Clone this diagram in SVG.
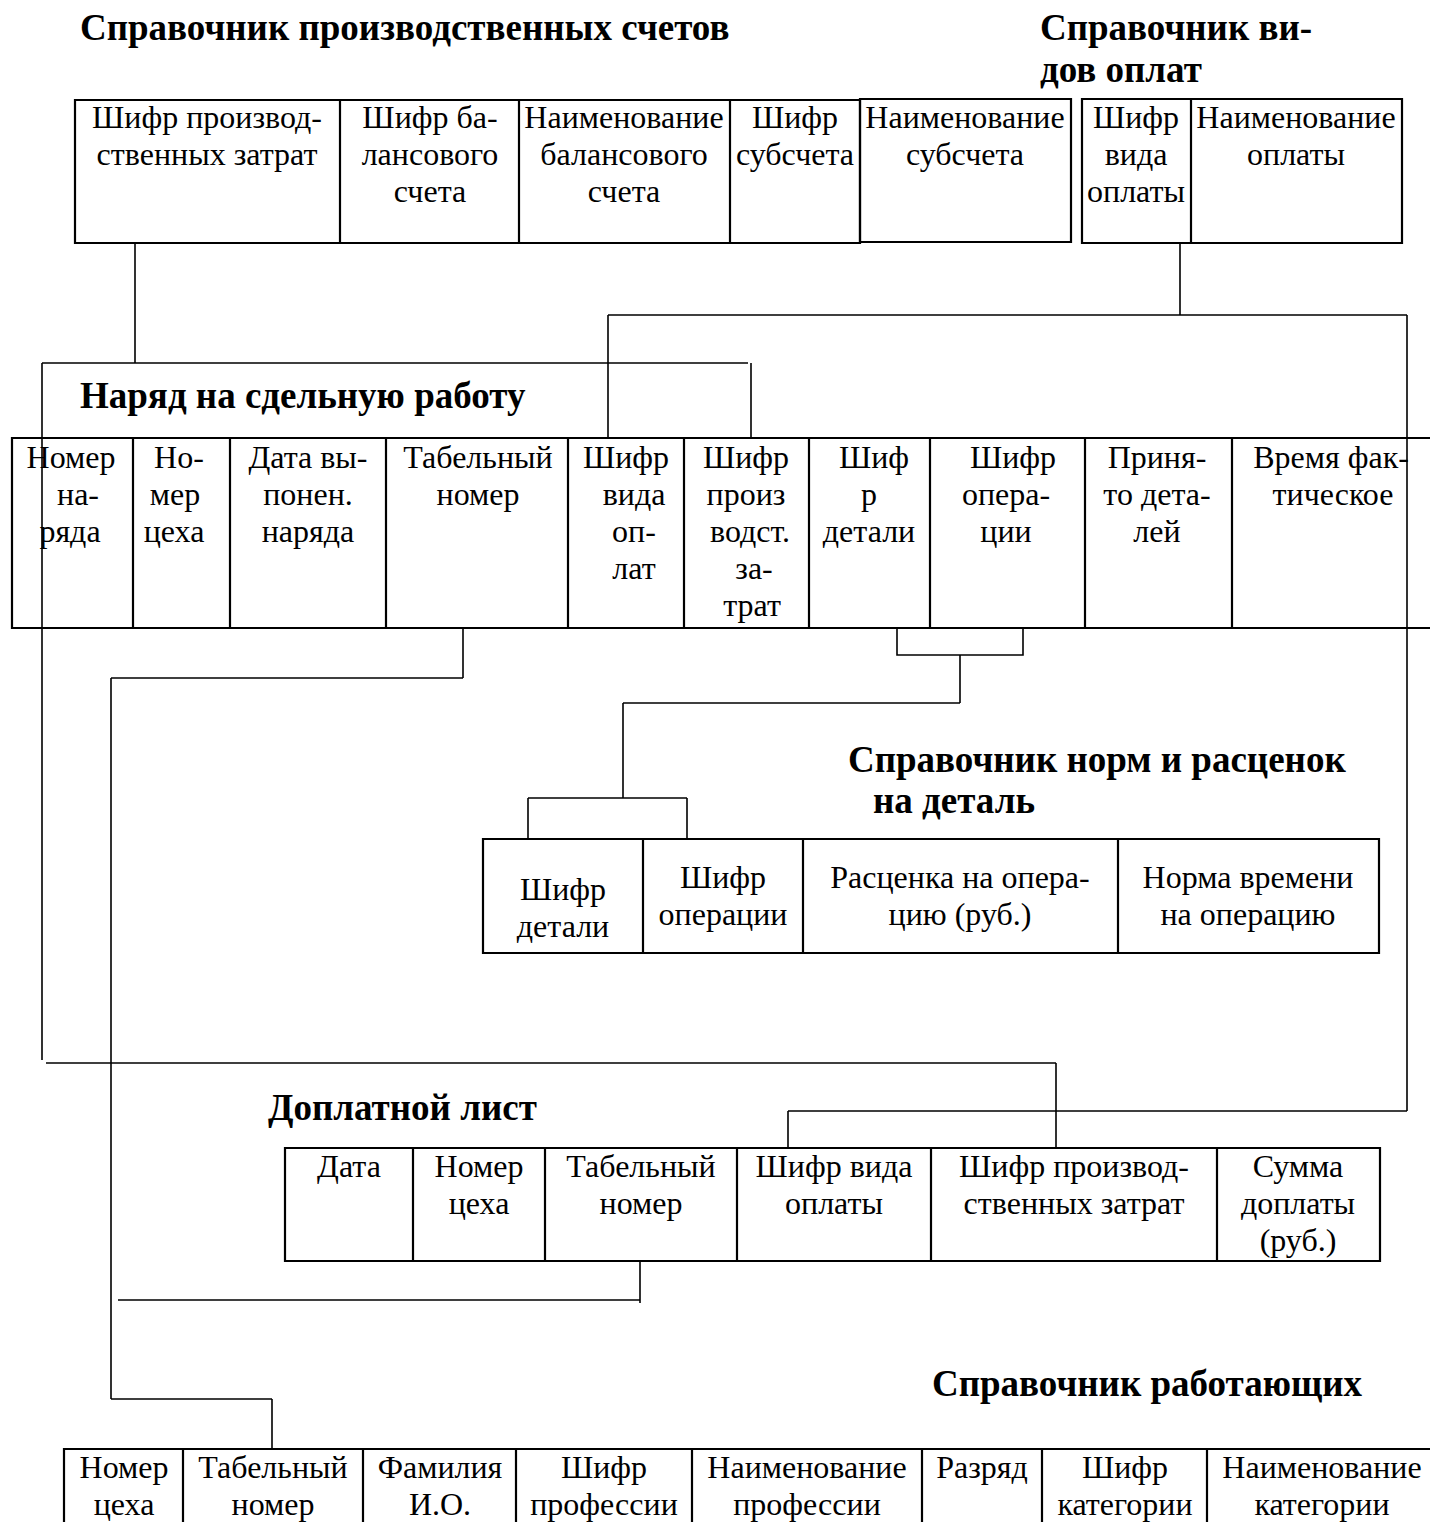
<svg xmlns="http://www.w3.org/2000/svg" width="1430" height="1522" viewBox="0 0 1430 1522">
<style>
.t{font-family:"Liberation Serif","Times New Roman",serif;font-size:32px;fill:#000;text-anchor:middle}
.h{font-family:"Liberation Serif","Times New Roman",serif;font-size:37px;font-weight:bold;fill:#000}
.b{fill:none;stroke:#000;stroke-width:2.2}
.c{fill:none;stroke:#000;stroke-width:1.6}
</style>
<rect width="1430" height="1522" fill="#fff"/>

<g id="connectors">
<path class="c" d="M135 243V363M42 363H748M42 363V1060M751 363V438"/>
<path class="c" d="M1180 243V315M608 315H1407M608 315V438M1407 315V1111M788 1111H1407M788 1111V1148"/>
<path class="c" d="M46 1063H1056M1056 1063V1148"/>
<path class="c" d="M463 628V678M111 678H463M111 678V1399M111 1399H272M272 1399V1449"/>
<path class="c" d="M897 628V655H1023V628M960 655V703M623 703H960M623 703V798M528 798H687M528 798V839M687 798V839"/>
<path class="c" d="M118 1300H640M640 1261V1303"/>
</g>

<g id="sprav-schetov">
<text class="h" x="80" y="40">Справочник производственных счетов</text>
<path class="b" d="M75 100H860V243H75ZM340 100V243M519 100V243M730 100V243"/>
<path class="b" d="M860 99H1071V242H860Z"/>
<text class="t"><tspan x="207" y="128">Шифр производ-</tspan><tspan x="207" y="165">ственных затрат</tspan></text>
<text class="t"><tspan x="430" y="128">Шифр ба-</tspan><tspan x="430" y="165">лансового</tspan><tspan x="430" y="202">счета</tspan></text>
<text class="t"><tspan x="624" y="128">Наименование</tspan><tspan x="624" y="165">балансового</tspan><tspan x="624" y="202">счета</tspan></text>
<text class="t"><tspan x="795" y="128">Шифр</tspan><tspan x="795" y="165">субсчета</tspan></text>
<text class="t"><tspan x="965" y="128">Наименование</tspan><tspan x="965" y="165">субсчета</tspan></text>
</g>

<g id="sprav-vidov-oplat">
<text class="h"><tspan x="1040" y="40">Справочник  ви-</tspan><tspan x="1040" y="82">дов оплат</tspan></text>
<path class="b" d="M1082 99H1402V243H1082ZM1191 99V243"/>
<text class="t"><tspan x="1136" y="128">Шифр</tspan><tspan x="1136" y="165">вида</tspan><tspan x="1136" y="202">оплаты</tspan></text>
<text class="t"><tspan x="1296" y="128">Наименование</tspan><tspan x="1296" y="165">оплаты</tspan></text>
</g>

<g id="naryad">
<text class="h" x="80" y="408">Наряд на сдельную работу</text>
<path class="b" d="M1440 438H12V628H1440M133 438V628M230 438V628M386 438V628M568 438V628M684 438V628M809 438V628M930 438V628M1085 438V628M1232 438V628"/>
<text class="t"><tspan x="71" y="468">Номер</tspan><tspan x="78" y="505">на-</tspan><tspan x="70" y="542">ряда</tspan></text>
<text class="t"><tspan x="179" y="468">Но-</tspan><tspan x="175" y="505">мер</tspan><tspan x="174" y="542">цеха</tspan></text>
<text class="t"><tspan x="308" y="468">Дата вы-</tspan><tspan x="308" y="505">понен.</tspan><tspan x="308" y="542">наряда</tspan></text>
<text class="t"><tspan x="478" y="468">Табельный</tspan><tspan x="478" y="505">номер</tspan></text>
<text class="t"><tspan x="626" y="468">Шифр</tspan><tspan x="634" y="505">вида</tspan><tspan x="634" y="542">оп-</tspan><tspan x="634" y="579">лат</tspan></text>
<text class="t"><tspan x="746" y="468">Шифр</tspan><tspan x="746" y="505">произ</tspan><tspan x="750" y="542">водст.</tspan><tspan x="754" y="579">за-</tspan><tspan x="752" y="616">трат</tspan></text>
<text class="t"><tspan x="874" y="468">Шиф</tspan><tspan x="869" y="505">р</tspan><tspan x="869" y="542">детали</tspan></text>
<text class="t"><tspan x="1013" y="468">Шифр</tspan><tspan x="1006" y="505">опера-</tspan><tspan x="1006" y="542">ции</tspan></text>
<text class="t"><tspan x="1157" y="468">Приня-</tspan><tspan x="1157" y="505">то дета-</tspan><tspan x="1157" y="542">лей</tspan></text>
<text class="t"><tspan x="1331" y="468">Время  фак-</tspan><tspan x="1333" y="505">тическое</tspan></text>
</g>

<g id="sprav-norm">
<text class="h"><tspan x="848" y="772">Справочник норм и расценок</tspan><tspan x="873" y="813">на деталь</tspan></text>
<path class="b" d="M483 839H1379V953H483ZM643 839V953M803 839V953M1118 839V953"/>
<text class="t"><tspan x="563" y="900">Шифр</tspan><tspan x="563" y="937">детали</tspan></text>
<text class="t"><tspan x="723" y="888">Шифр</tspan><tspan x="723" y="925">операции</tspan></text>
<text class="t"><tspan x="960" y="888">Расценка на опера-</tspan><tspan x="960" y="925">цию (руб.)</tspan></text>
<text class="t"><tspan x="1248" y="888">Норма времени</tspan><tspan x="1248" y="925">на операцию</tspan></text>
</g>

<g id="doplatnoy-list">
<text class="h" x="268" y="1120">Доплатной лист</text>
<path class="b" d="M285 1148H1380V1261H285ZM413 1148V1261M545 1148V1261M737 1148V1261M931 1148V1261M1217 1148V1261"/>
<text class="t" x="349" y="1177">Дата</text>
<text class="t"><tspan x="479" y="1177">Номер</tspan><tspan x="479" y="1214">цеха</tspan></text>
<text class="t"><tspan x="641" y="1177">Табельный</tspan><tspan x="641" y="1214">номер</tspan></text>
<text class="t"><tspan x="834" y="1177">Шифр вида</tspan><tspan x="834" y="1214">оплаты</tspan></text>
<text class="t"><tspan x="1074" y="1177">Шифр производ-</tspan><tspan x="1074" y="1214">ственных затрат</tspan></text>
<text class="t"><tspan x="1298" y="1177">Сумма</tspan><tspan x="1298" y="1214">доплаты</tspan><tspan x="1298" y="1251">(руб.)</tspan></text>
</g>

<g id="sprav-rabotayushchih">
<text class="h" x="932" y="1396">Справочник работающих</text>
<path class="b" d="M1440 1449H64V1540M183 1449V1540M363 1449V1540M516 1449V1540M692 1449V1540M922 1449V1540M1042 1449V1540M1207 1449V1540"/>
<text class="t"><tspan x="124" y="1478">Номер</tspan><tspan x="124" y="1515">цеха</tspan></text>
<text class="t"><tspan x="273" y="1478">Табельный</tspan><tspan x="273" y="1515">номер</tspan></text>
<text class="t"><tspan x="440" y="1478">Фамилия</tspan><tspan x="440" y="1515">И.О.</tspan></text>
<text class="t"><tspan x="604" y="1478">Шифр</tspan><tspan x="604" y="1515">профессии</tspan></text>
<text class="t"><tspan x="807" y="1478">Наименование</tspan><tspan x="807" y="1515">профессии</tspan></text>
<text class="t" x="982" y="1478">Разряд</text>
<text class="t"><tspan x="1125" y="1478">Шифр</tspan><tspan x="1125" y="1515">категории</tspan></text>
<text class="t"><tspan x="1322" y="1478">Наименование</tspan><tspan x="1322" y="1515">категории</tspan></text>
</g>
</svg>
